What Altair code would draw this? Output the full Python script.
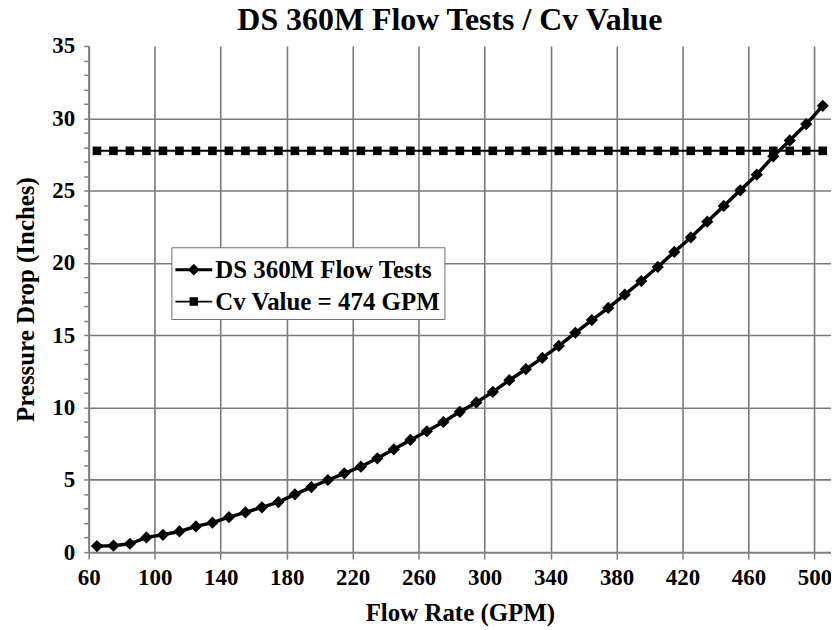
import altair as alt
import pandas as pd

# ---- data ----
flow_gpm = [65, 75, 85, 95, 105, 115, 125, 135, 145, 155, 165, 175, 185, 195, 205,
            215, 225, 235, 245, 255, 265, 275, 285, 295, 305, 315, 325, 335, 345,
            355, 365, 375, 385, 395, 405, 415, 425, 435, 445, 455, 465, 475, 485,
            495, 505]
pressure_drop = [0.42, 0.45, 0.58, 1.02, 1.20, 1.43, 1.78, 2.04, 2.42, 2.75, 3.10,
                 3.46, 4.00, 4.50, 4.99, 5.45, 5.91, 6.49, 7.11, 7.76, 8.36, 9.00,
                 9.70, 10.35, 11.08, 11.89, 12.65, 13.43, 14.27, 15.17, 16.05, 16.89,
                 17.81, 18.75, 19.72, 20.76, 21.76, 22.85, 23.94, 25.02, 26.10, 27.37,
                 28.47, 29.60, 30.86]
cv_value = [27.75] * len(flow_gpm)

series_names = ["DS 360M Flow Tests", "Cv Value = 474 GPM"]
x_ticks = [60, 100, 140, 180, 220, 260, 300, 340, 380, 420, 460, 500]
y_ticks = list(range(0, 36))

flow_df = pd.DataFrame({"gpm": flow_gpm, "drop": pressure_drop, "series": series_names[0]})
cv_df = pd.DataFrame({"gpm": flow_gpm, "drop": cv_value, "series": series_names[1]})
all_df = pd.concat([flow_df, cv_df], ignore_index=True)

FONT = "Liberation Serif"

x_enc = alt.X(
    "gpm:Q",
    scale=alt.Scale(domain=[60, 510], nice=False, zero=False),
    axis=alt.Axis(
        values=x_ticks, title="Flow Rate (GPM)", grid=True,
        labelFlush=False, labelOverlap=False,
        tickSize=7, labelPadding=7, titlePadding=12,
    ),
)
y_enc = alt.Y(
    "drop:Q",
    scale=alt.Scale(domain=[0, 35], nice=False),
    axis=alt.Axis(
        values=y_ticks, title="Pressure Drop (Inches)", grid=True,
        labelExpr="datum.value % 5 === 0 ? datum.label : ''",
        gridOpacity={"condition": {"test": "datum.value % 5 === 0 && datum.value > 0 && datum.value < 35", "value": 1}, "value": 0},
        labelFlush=False, labelOverlap=False,
        tickSize=5, labelPadding=9, titlePadding=13,
    ),
)

flow_line = alt.Chart(flow_df).mark_line(color="black", strokeWidth=3.5).encode(x=x_enc, y=y_enc)
flow_pts = alt.Chart(flow_df).mark_point(shape="diamond", filled=True, size=150, color="black", opacity=1).encode(x=x_enc, y=y_enc)
cv_line = alt.Chart(cv_df).mark_line(color="black", strokeWidth=2).encode(x=x_enc, y=y_enc)
cv_pts = alt.Chart(cv_df).mark_point(shape="square", filled=True, size=75, color="black", opacity=1).encode(x=x_enc, y=y_enc)

# legend symbols: a short line with the series marker
sym_flow = "M-1,-0.08 L1,-0.08 L1,0.08 L-1,0.08 Z M0,-0.32 L0.32,0 L0,0.32 L-0.32,0 Z"
sym_cv = "M-1,-0.05 L1,-0.05 L1,0.05 L-1,0.05 Z M-0.23,-0.23 L0.23,-0.23 L0.23,0.23 L-0.23,0.23 Z"

legend_layer = alt.Chart(all_df).mark_point(filled=True, opacity=0, color="black").encode(
    x=x_enc, y=y_enc,
    shape=alt.Shape(
        "series:N",
        scale=alt.Scale(domain=series_names, range=[sym_flow, sym_cv]),
        legend=alt.Legend(
            title=None, orient="none", legendX=83, legendY=202,
            fillColor="white", strokeColor="#707070", padding=4,
            labelFont=FONT, labelFontSize=25, labelFontWeight="bold", labelColor="black",
            labelLimit=500,
            symbolSize=1369, symbolFillColor="black", symbolStrokeWidth=0,
            labelOffset=3, rowPadding=-3,
        ),
    ),
)

chart = alt.layer(flow_line, cv_line, flow_pts, cv_pts, legend_layer).properties(
    width=745,
    height=508,
    background="white",
    autosize=alt.AutoSizeParams(type="none"),
    padding={"left": 81, "top": 37, "right": 0, "bottom": 77},
    title=alt.Title(
        "DS 360M Flow Tests / Cv Value", font=FONT, fontSize=32, fontWeight="bold",
        color="black", anchor="middle", frame="group", offset=-2, dx=-10,
    ),
).configure_view(strokeWidth=0).configure_axis(
    labelFont=FONT, labelFontSize=23, labelFontWeight="bold", labelColor="black",
    titleFont=FONT, titleFontSize=25, titleFontWeight="bold", titleColor="black",
    domainColor="#808080", domainWidth=2, tickColor="#808080", tickWidth=1.5,
    gridColor="#7a7a7a", gridWidth=1.6,
)

chart.save("out.html", embed_options={"renderer": "svg", "actions": False})
